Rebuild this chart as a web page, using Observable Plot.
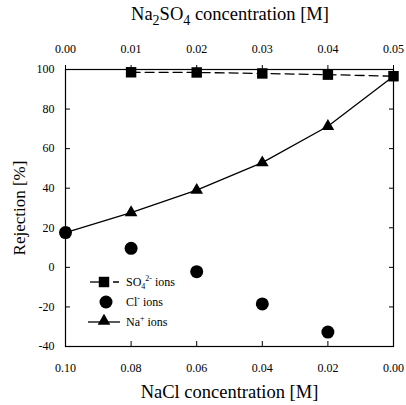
<!DOCTYPE html>
<html><head><meta charset="utf-8">
<script src="https://cdn.jsdelivr.net/npm/d3@7"></script>
<script src="https://cdn.jsdelivr.net/npm/@observablehq/plot@0.6"></script>
<style>body{margin:0;background:#fff} svg{display:block} svg text{font-family:"Liberation Serif","Times New Roman",serif}</style>
</head><body><div id="chart"></div>
<script>
// NaCl concentration (bottom axis) and matching Na2SO4 concentration (top axis)
const naclConc = [0.10, 0.08, 0.06, 0.04, 0.02, 0.00];
const naclLabels = ["0.10", "0.08", "0.06", "0.04", "0.02", "0.00"];
const na2so4Labels = ["0.00", "0.01", "0.02", "0.03", "0.04", "0.05"];
// Rejection [%]
const so4Rej = [null, 98.6, 98.5, 98.0, 97.4, 96.6];
const clRej = [17.6, 9.6, -2.2, -18.5, -32.7, null];
const naRej = [17.6, 27.7, 39.0, 52.9, 71.3, 96.6];
const yTicks = [-40, -20, 0, 20, 40, 60, 80, 100];

const rows = naclConc.map((x, i) => ({x, i, so4: so4Rej[i], cl: clRej[i], na: naRej[i]}));
const so4Rows = rows.filter(d => d.so4 != null);
const clRows = rows.filter(d => d.cl != null);
const naMarkRows = rows.filter(d => d.i > 0 && d.i < rows.length - 1);

const W = 406, H = 405;
const font = "'Liberation Serif', 'Times New Roman', serif";

const chart = Plot.plot({
  width: W, height: H,
  marginLeft: 65, marginRight: 13, marginTop: 69, marginBottom: 59,
  style: {fontFamily: font, fontSize: "12px", color: "black", background: "white"},
  x: {domain: [0.10, 0.00]},
  y: {domain: [-40, 100]},
  marks: [
    Plot.frame({stroke: "black", strokeWidth: 1.2}),
    Plot.axisX(naclConc, {anchor: "bottom", tickSize: -5, tickPadding: 22,
      tickFormat: (d, i) => naclLabels[i], label: "NaCl concentration [M]",
      labelAnchor: "center", labelArrow: "none", labelOffset: 51}),
    Plot.axisX(naclConc, {anchor: "top", tickSize: 5, tickPadding: 12,
      tickFormat: (d, i) => na2so4Labels[i], label: null}),
    Plot.axisY(yTicks, {anchor: "left", tickSize: -5, tickPadding: 16,
      tickFormat: d => String(d), label: "Rejection [%]", labelAnchor: "center",
      labelArrow: "none", labelOffset: 53}),
    Plot.axisY(yTicks, {anchor: "right", tickSize: -5, tickFormat: () => "", label: null}),
    Plot.line(rows, {x: "x", y: "na", stroke: "black", strokeWidth: 1.3}),
    Plot.line(so4Rows, {x: "x", y: "so4", stroke: "black", strokeWidth: 1.3, strokeDasharray: "9,5"}),
    Plot.dot(naMarkRows, {x: "x", y: "na", symbol: "triangle", r: 4.7, fill: "black"}),
    Plot.dot(clRows, {x: "x", y: "cl", symbol: "circle", r: 6.5, fill: "black"}),
    Plot.dot(so4Rows, {x: "x", y: "so4", symbol: "square", r: 5.9, fill: "black"})
  ]
});
document.getElementById("chart").appendChild(chart);

const svg = d3.select(chart);
svg.selectAll("text").style("font-family", font);
svg.selectAll("[aria-label='x-axis label'] text").style("font-size", "18.5px");
svg.selectAll("[aria-label='y-axis label'] text").style("font-size", "17px");

// Top title with subscripts
const t = svg.append("text").attr("x", 230).attr("y", 20).attr("text-anchor", "middle")
  .style("font-family", font).style("font-size", "18.5px").attr("fill", "black");
t.append("tspan").text("Na");
t.append("tspan").attr("dy", 5).style("font-size", "14px").text("2");
t.append("tspan").attr("dy", -5).text("SO");
t.append("tspan").attr("dy", 5).style("font-size", "14px").text("4");
t.append("tspan").attr("dy", -5).text(" concentration [M]");

// Legend
const lg = svg.append("g").style("font-family", font).style("font-size", "12px")
  .attr("text-anchor", "start");
const sym = (type, size) => d3.symbol().type(type).size(size)();
// SO4
lg.append("line").attr("x1", 90).attr("x2", 104).attr("y1", 282).attr("y2", 282).attr("stroke", "black").attr("stroke-width", 1.3);
lg.append("line").attr("x1", 104).attr("x2", 119).attr("y1", 282).attr("y2", 282).attr("stroke", "black").attr("stroke-width", 1.3).attr("stroke-dasharray", "0,9,5");
lg.append("path").attr("d", sym(d3.symbolSquare, Math.PI * 5.9 * 5.9)).attr("transform", "translate(104,282)");
const t1 = lg.append("text").attr("x", 126).attr("y", 286).attr("text-anchor", "start");
t1.append("tspan").text("SO");
t1.append("tspan").attr("dy", 3).style("font-size", "8px").text("4");
t1.append("tspan").attr("dy", -8).style("font-size", "8px").text("2-");
t1.append("tspan").attr("dy", 5).text(" ions");
// Cl
lg.append("path").attr("d", sym(d3.symbolCircle, Math.PI * 6.5 * 6.5)).attr("transform", "translate(106,302)");
const t2 = lg.append("text").attr("x", 126).attr("y", 306).attr("text-anchor", "start");
t2.append("tspan").text("Cl");
t2.append("tspan").attr("dy", -5).style("font-size", "8px").text("-");
t2.append("tspan").attr("dy", 5).text(" ions");
// Na
lg.append("line").attr("x1", 88).attr("x2", 120).attr("y1", 322).attr("y2", 322).attr("stroke", "black").attr("stroke-width", 1.3);
lg.append("path").attr("d", sym(d3.symbolTriangle, Math.PI * 4.7 * 4.7)).attr("transform", "translate(104,321)");
const t3 = lg.append("text").attr("x", 126).attr("y", 326).attr("text-anchor", "start");
t3.append("tspan").text("Na");
t3.append("tspan").attr("dy", -5).style("font-size", "8px").text("+");
t3.append("tspan").attr("dy", 5).text(" ions");
</script>
</body></html>
